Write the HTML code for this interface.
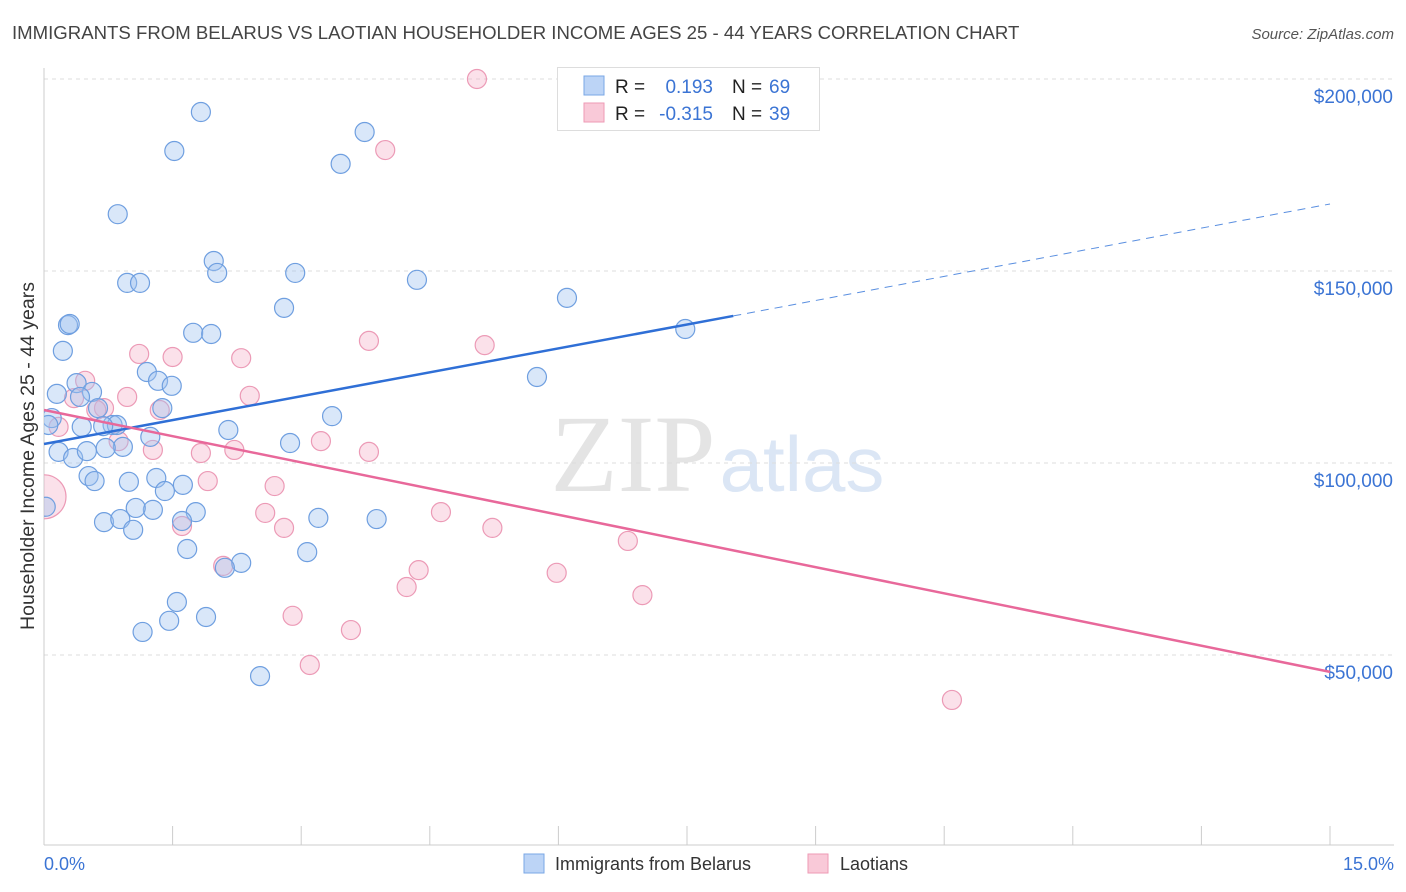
<!DOCTYPE html>
<html><head><meta charset="utf-8"><style>
body{margin:0;background:#fff;font-family:"Liberation Sans",sans-serif}
svg{display:block}
</style></head><body>
<svg id="c" width="1406" height="892" xmlns="http://www.w3.org/2000/svg">
<defs><clipPath id="plotclip"><rect x="44" y="0" width="1362" height="846"/></clipPath></defs>
<text x="12" y="39" font-size="18.6" fill="#444">IMMIGRANTS FROM BELARUS VS LAOTIAN HOUSEHOLDER INCOME AGES 25 - 44 YEARS CORRELATION CHART</text>
<text x="1394" y="39" font-size="15" fill="#555" font-style="italic" text-anchor="end">Source: ZipAtlas.com</text>
<g><text x="633" y="491" font-size="110" fill="#e4e4e4" font-family="Liberation Serif" text-anchor="middle">ZIP</text><text x="802" y="491" font-size="78" fill="#dbe6f5" text-anchor="middle">atlas</text></g>
<g id="grid"></g><g id="axes"></g><g id="pts" clip-path="url(#plotclip)"></g><g id="lines"></g>
<text transform="translate(34,456) rotate(-90)" font-size="19.5" fill="#333" text-anchor="middle">Householder Income Ages 25 - 44 years</text>
<text x="44" y="870" font-size="18" fill="#3b74d4">0.0%</text>
<text x="1394" y="870" font-size="18" fill="#3b74d4" text-anchor="end">15.0%</text>
<g>
<rect x="557.5" y="67.5" width="262" height="63" fill="#fff" stroke="#ddd"/>
<rect x="584" y="76" width="20" height="19" fill="#bcd4f6" stroke="#7aa7e6"/>
<rect x="584" y="103" width="20" height="19" fill="#f9c9d8" stroke="#ee9ab5"/>
<text x="615" y="93" font-size="19" fill="#222">R = </text><text x="713" y="93" font-size="19" fill="#3b74d4" text-anchor="end">0.193</text>
<text x="732" y="93" font-size="19" fill="#222">N = </text><text x="769" y="93" font-size="19" fill="#3b74d4">69</text>
<text x="615" y="120" font-size="19" fill="#222">R = </text><text x="713" y="120" font-size="19" fill="#3b74d4" text-anchor="end">-0.315</text>
<text x="732" y="120" font-size="19" fill="#222">N = </text><text x="769" y="120" font-size="19" fill="#3b74d4">39</text>
</g>
<g>
<rect x="524" y="854" width="20" height="19" fill="#bcd4f6" stroke="#7aa7e6"/>
<text x="555" y="870" font-size="18" fill="#333">Immigrants from Belarus</text>
<rect x="808" y="854" width="20" height="19" fill="#f9c9d8" stroke="#ee9ab5"/>
<text x="840" y="870" font-size="18" fill="#333">Laotians</text>
</g>
</svg>
<script>
const yTicks=[200000,150000,100000,50000];
const yTickLabels=["$200,000","$150,000","$100,000","$50,000"];
const xTicks=[0,1.5,3,4.5,6,7.5,9,10.5,12,13.5,15];
const blueX=[1.83,1.52,3.74,3.46,0.86,1.98,2.02,2.93,0.97,1.12,4.35,6.10,2.80,7.48,0.28,0.30,1.74,1.95,0.22,1.20,5.75,1.33,0.38,1.49,0.56,0.15,0.42,1.38,0.63,3.36,0.09,0.05,0.44,0.80,0.85,0.69,2.15,1.24,2.87,0.92,0.72,0.17,0.34,0.50,0.52,0.59,0.99,1.31,1.62,1.41,1.77,1.27,1.07,0.02,0.70,0.89,1.04,1.61,3.20,3.88,1.67,3.07,2.30,2.11,1.55,1.46,1.89,1.15,2.52];
const blueY=[191400,181250,186200,177900,164800,152600,149500,149500,146900,146900,147700,143000,140400,134900,135900,136200,133900,133600,129200,123700,122400,121400,120800,120100,118500,118000,117200,114300,114300,112200,111700,109900,109400,109900,109900,109600,108600,106800,105200,104200,103900,102900,101300,103100,96600,95300,95100,96100,94300,92700,87200,87800,88300,88600,84600,85400,82600,84900,85700,85400,77600,76800,74000,72700,63800,58900,59900,56000,44500];
const pinkX=[5.05,3.98,3.79,5.14,1.11,1.50,2.30,0.48,0.97,2.40,0.35,0.70,0.61,1.35,0.17,0.87,3.23,1.27,3.79,2.22,1.83,1.91,2.69,2.58,4.63,1.61,2.80,5.23,6.81,2.09,4.37,5.98,4.23,6.98,2.90,3.58,3.10,10.59,0.0];
const pinkY=[200000,181500,131800,130700,128400,127600,127300,121400,117200,117500,116900,114300,113800,113800,109400,105700,105700,103400,102900,103400,102600,95300,94000,87000,87200,83600,83100,83100,79700,73200,72100,71400,67700,65600,60200,56500,47400,38300,91200];
const blueTrend=[[0,104950],[8.04,138300],[15,167450]];
const pinkTrend=[[0,113800],[15,45600]];
const X=v=>44+v/15*1286, Y=v=>79+(200000-v)*192/50000;
const NS="http://www.w3.org/2000/svg";
function mk(p,t,a){const e=document.createElementNS(NS,t);for(const k in a)e.setAttribute(k,a[k]);document.getElementById(p).appendChild(e);return e;}
yTicks.forEach((v,i)=>{
 const l=mk('grid','line',{x1:44,x2:1394,y1:Y(v),y2:Y(v),stroke:'#ddd','stroke-dasharray':'4,4'});
 
 
 const t=mk('grid','text',{x:1393,y:Y(v)+24,'font-size':19,fill:'#3b74d4','text-anchor':'end'});
 t.textContent=yTickLabels[i];
 
 
});
const ax=mk('axes','line',{x1:44,x2:1394,y1:845,y2:845,stroke:'#ccc'});


const ay=mk('axes','line',{x1:44,x2:44,y1:68,y2:845,stroke:'#ccc'});


xTicks.forEach(v=>{const t=mk('axes','line',{x1:X(v),x2:X(v),y1:826,y2:845,stroke:'#ccc'});
 
 });
pinkX.forEach((x,i)=>{const r=i==pinkX.length-1?22:9.5;
 const c=mk('pts','circle',{cx:X(x),cy:Y(pinkY[i]),r:r,fill:'rgba(244,170,195,0.35)',stroke:'#ec9ab6','stroke-width':1.2});
 
 });
blueX.forEach((x,i)=>{const c=mk('pts','circle',{cx:X(x),cy:Y(blueY[i]),r:9.5,fill:'rgba(160,195,240,0.4)',stroke:'#6f9fe0','stroke-width':1.2});
 
 });
const b1=mk('lines','line',{x1:X(blueTrend[0][0]),y1:Y(blueTrend[0][1]),x2:X(blueTrend[1][0]),y2:Y(blueTrend[1][1]),stroke:'#2f6fd6','stroke-width':2.5});


const b2=mk('lines','line',{x1:X(blueTrend[1][0]),y1:Y(blueTrend[1][1]),x2:X(blueTrend[2][0]),y2:Y(blueTrend[2][1]),stroke:'#5a8fe0','stroke-width':1,'stroke-dasharray':'8,6'});


const p1=mk('lines','line',{x1:X(pinkTrend[0][0]),y1:Y(pinkTrend[0][1]),x2:X(pinkTrend[1][0]),y2:Y(pinkTrend[1][1]),stroke:'#e8689a','stroke-width':2.5});


</script>
</body></html>
